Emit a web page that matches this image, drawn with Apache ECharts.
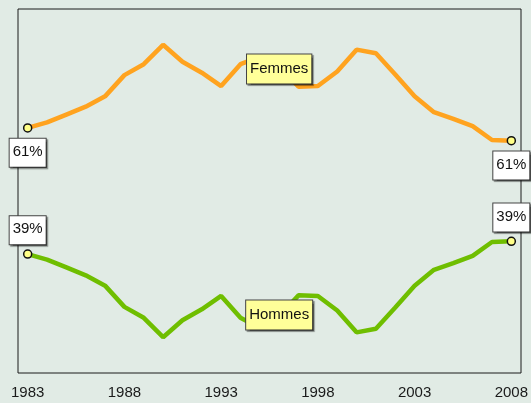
<!DOCTYPE html>
<html>
<head>
<meta charset="utf-8">
<script src="https://cdn.jsdelivr.net/npm/echarts@6/dist/echarts.min.js"></script>
<style>
  html, body { margin: 0; padding: 0; background: #e1ebe5; }
  #main { width: 531px; height: 403px; }
</style>
</head>
<body>
<div id="main"></div>
<script>
var years = ['1983', '1984', '1985', '1986', '1987', '1988', '1989', '1990', '1991', '1992',
  '1993', '1994', '1995', '1996', '1997', '1998', '1999', '2000', '2001', '2002',
  '2003', '2004', '2005', '2006', '2007', '2008'];

var femmes = [60.4, 61.3, 62.6, 63.9, 65.6, 69.1, 70.9, 74.1, 71.3, 69.5,
  67.3, 70.9, 72.1, 70.6, 67.2, 67.3, 69.7, 73.3, 72.7, 69.2,
  65.6, 63.0, 61.9, 60.7, 58.4, 58.3];

var hommes = [39.6, 38.7, 37.4, 36.1, 34.4, 30.9, 29.1, 25.9, 28.7, 30.5,
  32.7, 29.1, 27.4, 29.4, 32.8, 32.7, 30.3, 26.7, 27.3, 30.8,
  34.4, 37.0, 38.1, 39.3, 41.6, 41.7];

var femmesEnds = ['61%', '61%'];
var hommesEnds = ['39%', '39%'];
var nameIndex = 13;

var font = '"Liberation Sans", Arial, sans-serif';

var boxStyle = {
  color: '#111',
  fontSize: 15,
  fontFamily: font,
  lineHeight: 18,
  borderColor: '#444',
  borderWidth: 1,
  shadowColor: 'rgba(0,0,0,0.4)',
  shadowOffsetX: 1.5,
  shadowOffsetY: 1.5,
  shadowBlur: 1
};

function buildData(values, ends, name, endPos, endDist, nameOffset) {
  var last = values.length - 1;
  return values.map(function (v, i) {
    if (i === 0 || i === last) {
      return {
        value: v,
        label: Object.assign({
          show: true,
          position: endPos,
          distance: endDist,
          formatter: ends[i === 0 ? 0 : 1],
          backgroundColor: '#fff',
          padding: [4, 3, 6, 3]
        }, boxStyle)
      };
    }
    if (i === nameIndex) {
      return {
        value: v,
        label: Object.assign({
          show: true,
          position: 'inside',
          offset: nameOffset,
          formatter: name,
          backgroundColor: '#ffff99',
          padding: [4, 3, 7, 3]
        }, boxStyle)
      };
    }
    return v;
  });
}

function symbolSize(v, p) {
  return (p.dataIndex === 0 || p.dataIndex === years.length - 1) ? 8 : 0;
}

var chart = echarts.init(document.getElementById('main'));

var option = {
  animation: false,
  backgroundColor: '#e1ebe5',
  grid: {
    left: 18, top: 9, width: 504, height: 364,
    show: true,
    borderColor: '#1a1a1a',
    borderWidth: 1,
    backgroundColor: 'transparent'
  },
  xAxis: {
    type: 'category',
    data: years,
    boundaryGap: true,
    axisLine: { show: false },
    axisTick: { show: false },
    axisLabel: {
      interval: 4,
      margin: 12,
      color: '#1a1a1a',
      fontSize: 15,
      fontFamily: font
    },
    splitLine: { show: false }
  },
  yAxis: {
    type: 'value',
    min: 20,
    max: 80,
    show: false,
    splitLine: { show: false }
  },
  series: [
    {
      name: 'Femmes',
      type: 'line',
      data: buildData(femmes, femmesEnds, 'Femmes', 'bottom', 6, [0, 3]),
      symbol: 'circle',
      symbolSize: symbolSize,
      showSymbol: true,
      lineStyle: { color: '#ffa31f', width: 4.5 },
      itemStyle: { color: '#ffff88', borderColor: '#111', borderWidth: 1.5 },
      z: 3
    },
    {
      name: 'Hommes',
      type: 'line',
      data: buildData(hommes, hommesEnds, 'Hommes', 'top', 5, [0, -1]),
      symbol: 'circle',
      symbolSize: symbolSize,
      showSymbol: true,
      lineStyle: { color: '#6fbe00', width: 4.5 },
      itemStyle: { color: '#ffff88', borderColor: '#111', borderWidth: 1.5 },
      z: 3
    }
  ]
};

chart.setOption(option);
</script>
</body>
</html>
